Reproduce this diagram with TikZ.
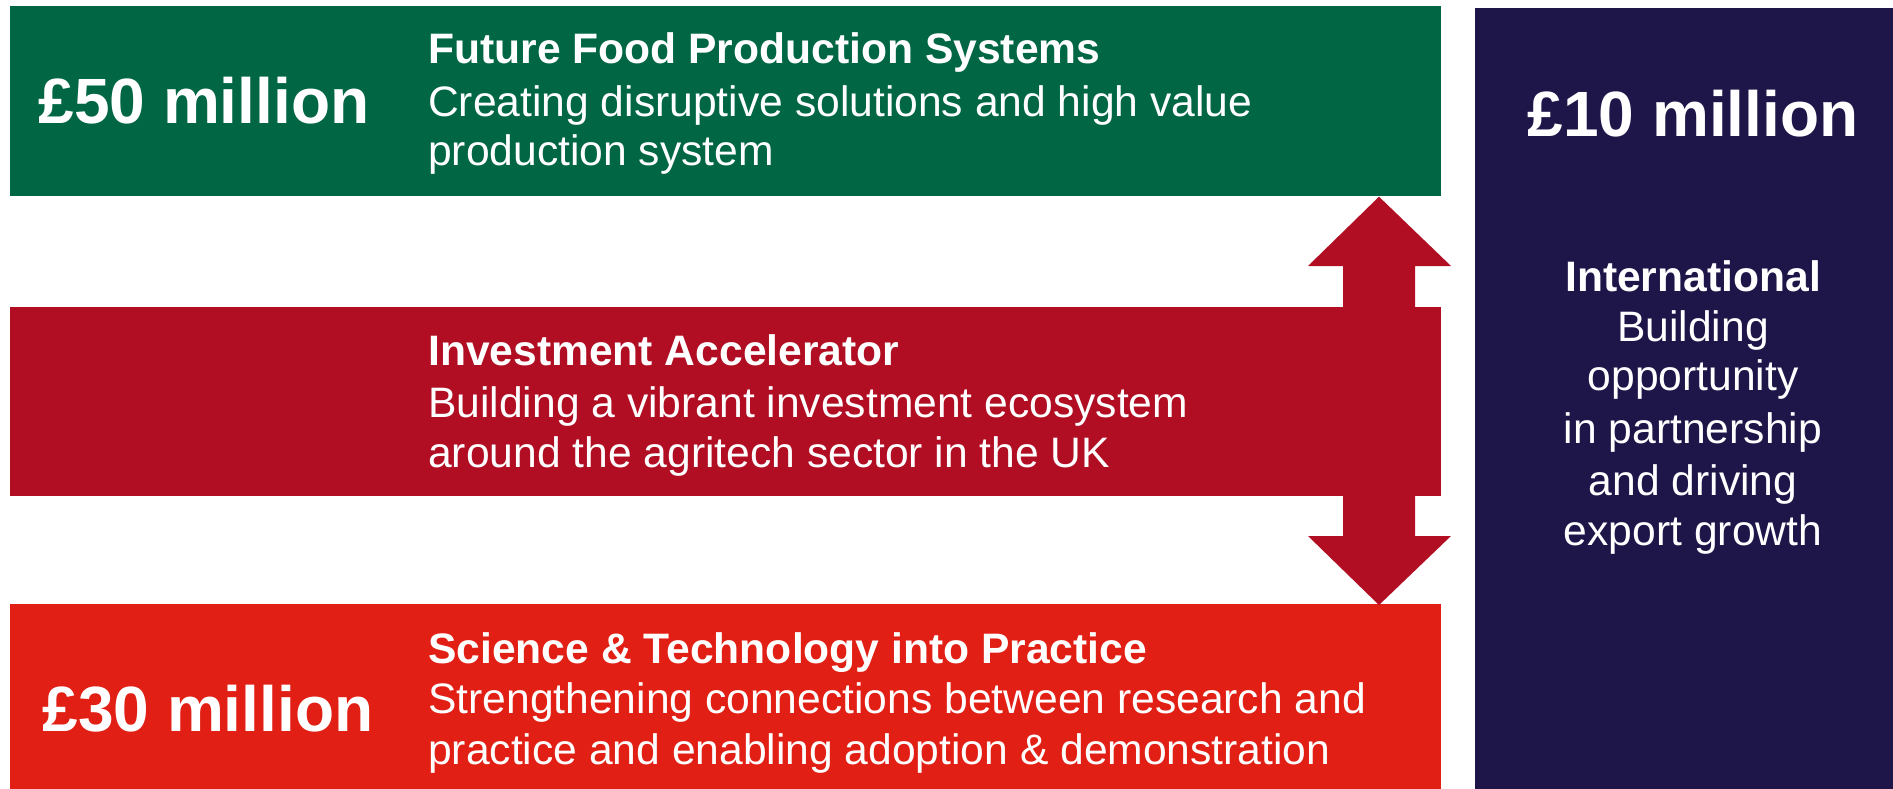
\documentclass[tikz,border=0pt]{standalone}
\usepackage{fontspec}
\setmainfont{Liberation Sans}
\definecolor{fgreen}{HTML}{006644}
\definecolor{fcrimson}{HTML}{B10E23}
\definecolor{forange}{HTML}{E21F14}
\definecolor{fnavy}{HTML}{1E1549}
\begin{document}
\begin{tikzpicture}[x=1pt,y=-1pt,
  bar/.style={anchor=north west, inner sep=0pt, outer sep=0pt},
  amount/.style={anchor=base, inner sep=0pt, text=white, font=\fontsize{64}{70}\selectfont\bfseries},
  ttl/.style={anchor=base west, inner sep=0pt, text=white, font=\fontsize{42.6}{48}\selectfont\bfseries},
  txt/.style={anchor=base west, inner sep=0pt, text=white, font=\fontsize{42.6}{48}\selectfont},
  ctxt/.style={anchor=base, inner sep=0pt, text=white, font=\fontsize{42.6}{48}\selectfont},
  cttl/.style={anchor=base, inner sep=0pt, text=white, font=\fontsize{42.6}{48}\selectfont\bfseries}]
\useasboundingbox (0,0) rectangle (1893,789);
\fill[white] (0,0) rectangle (1893,789);
% bars
\node[bar, fill=fgreen, minimum width=1431pt, minimum height=190pt] (fps) at (10,6) {};
\node[bar, fill=fcrimson, minimum width=1431pt, minimum height=189pt] (ia) at (10,307) {};
\node[bar, fill=forange, minimum width=1431pt, minimum height=185pt] (stp) at (10,604) {};
\node[bar, fill=fnavy, minimum width=418pt, minimum height=781pt] (intl) at (1475,8) {};
% double arrow
\fill[fcrimson] (1379,196.7) -- (1451,266) -- (1415,266) -- (1415,536) -- (1451,536)
  -- (1379,605) -- (1308,536) -- (1343,536) -- (1343,266) -- (1308,266) -- cycle;
% amounts
\node[amount] (a50) at (204,124) {£50 million};
\node[amount] (a30) at (208,731) {£30 million};
\node[amount] (a10) at (1693,137) {£10 million};
% green block
\node[ttl] (t1) at (428,64) {Future Food Production Systems};
\node[txt] (t1a) at (428,117) {Creating disruptive solutions and high value};
\node[txt] (t1b) at (428,166) {production system};
% crimson block
\node[ttl] (t2) at (428,365) {Investment Accelerator};
\node[txt] (t2a) at (428,417) {Building a vibrant investment ecosystem};
\node[txt] (t2b) at (428,467) {around the agritech sector in the UK};
% orange block
\node[ttl] (t3) at (428,663) {Science \& Technology into Practice};
\node[txt] (t3a) at (428,713) {Strengthening connections between research and};
\node[txt] (t3b) at (428,764) {practice and enabling adoption \& demonstration};
% navy block
\node[cttl] (t4) at (1693,291) {International};
\node[ctxt] (t4a) at (1693,341) {Building};
\node[ctxt] (t4b) at (1693,390) {opportunity};
\node[ctxt] (t4c) at (1693,443) {in partnership};
\node[ctxt] (t4d) at (1693,495) {and driving};
\node[ctxt] (t4e) at (1693,545) {export growth};
\end{tikzpicture}
\end{document}
